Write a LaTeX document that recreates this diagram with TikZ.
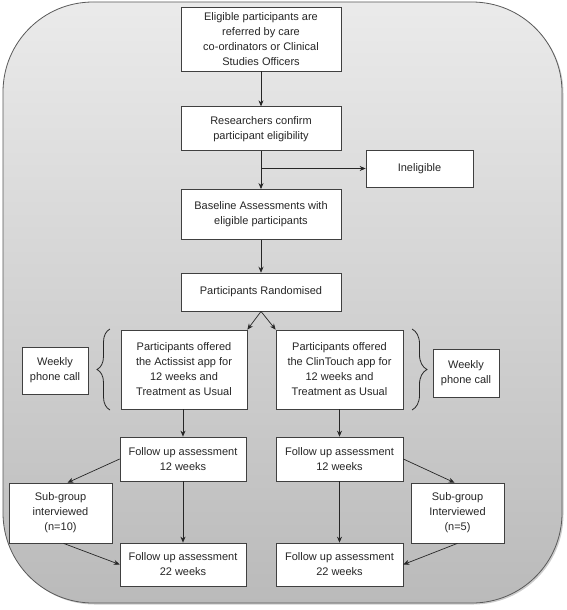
\documentclass[tikz,border=0pt]{standalone}
\usepackage{fontspec}
\setmainfont{Liberation Sans}
\usepackage{tikz}
\usetikzlibrary{arrows.meta, positioning, decorations.pathreplacing, shadows}

\begin{document}
\begin{tikzpicture}[
x=1pt, y=-1pt,
>={Stealth[length=6pt,width=5pt]},
every node/.style={font=\fontsize{11}{15}\selectfont, text=black!85, align=center},
box/.style={draw=black!75, fill=white, line width=0.7pt, inner sep=2pt},
link/.style={->, draw=black!85, line width=0.7pt},
brace/.style={draw=black!85, line width=0.8pt, decorate, decoration={brace, amplitude=#1}},
]
\useasboundingbox (0,0) rectangle (567,610);
% background panel
\path[draw=black!65, line width=0.8pt, rounded corners=90pt, top color=black!8, bottom color=black!27,
  drop shadow={shadow xshift=1.5pt, shadow yshift=-1.5pt, opacity=0.4}] (3,2) rectangle (562,603);

\node[box, minimum width=160pt, minimum height=64pt] (refer) at (261,39)
  {Eligible participants are\\referred by care\\co-ordinators or Clinical\\Studies Officers};
\node[box, minimum width=160pt, minimum height=44pt, below=35pt of refer] (confirm)
  {Researchers confirm\\participant eligibility};
\node[box, minimum width=160pt, minimum height=50pt, below=38pt of confirm] (baseline)
  {Baseline Assessments with\\eligible participants};
\node[box, minimum width=160pt, minimum height=38pt, below=33pt of baseline] (random)
  {Participants Randomised};
\node[box, minimum width=107pt, minimum height=37pt] (inelig) at (419.5,168.5) {Ineligible};

% the two arms
\node[box, minimum width=126pt, minimum height=79pt] (actis) at (184,369.5)
  {Participants offered\\the Actissist app for\\12 weeks and\\Treatment as Usual};
\node[box, minimum width=127pt, minimum height=79pt] (clin) at (339.5,369.5)
  {Participants offered\\the ClinTouch app for\\12 weeks and\\Treatment as Usual};
\node[box, minimum width=66pt, minimum height=47pt] (callL) at (55,370.5) {Weekly\\phone call};
\node[box, minimum width=66pt, minimum height=48pt] (callR) at (466,373) {Weekly\\phone call};

\node[box, minimum width=126pt, minimum height=44pt] (fuL) at (183,459) {Follow up assessment\\12 weeks};
\node[box, minimum width=127pt, minimum height=44pt] (fuR) at (339.5,459) {Follow up assessment\\12 weeks};
\node[box, minimum width=103pt, minimum height=60pt] (subL) at (60.5,513) {Sub-group\\interviewed\\(n=10)};
\node[box, minimum width=93pt, minimum height=60pt] (subR) at (457.5,513) {Sub-group\\Interviewed\\(n=5)};
\node[box, minimum width=126pt, minimum height=43pt] (endL) at (183,564.5) {Follow up assessment\\22 weeks};
\node[box, minimum width=127pt, minimum height=43pt] (endR) at (339.5,564.5) {Follow up assessment\\22 weeks};

\draw[brace=13pt] (110,410) -- (110,329);
\draw[brace=15pt] (412,329) -- (412,410);

\draw[link] (refer) -- (confirm);
\draw[link] (confirm) -- (baseline);
\draw[link] (confirm.south |- inelig.west) -- (inelig.west);
\draw[link] (baseline) -- (random);
\draw[link] (random.south) -- (actis.north east);
\draw[link] (random.south) -- (clin.north west);
\draw[link] (actis.south -| fuL.north) -- (fuL.north);
\draw[link] (clin.south -| fuR.north) -- (fuR.north);
\draw[link] (fuL.west) -- ([xshift=7pt]subL.north);
\draw[link] (fuR.east) -- ([xshift=-3pt]subR.north);
\draw[link] (fuL) -- (endL);
\draw[link] (fuR) -- (endR);
\draw[link] ([xshift=3pt]subL.south) -- (endL.west);
\draw[link] (subR.south) -- (endR.east);
\end{tikzpicture}
\end{document}
